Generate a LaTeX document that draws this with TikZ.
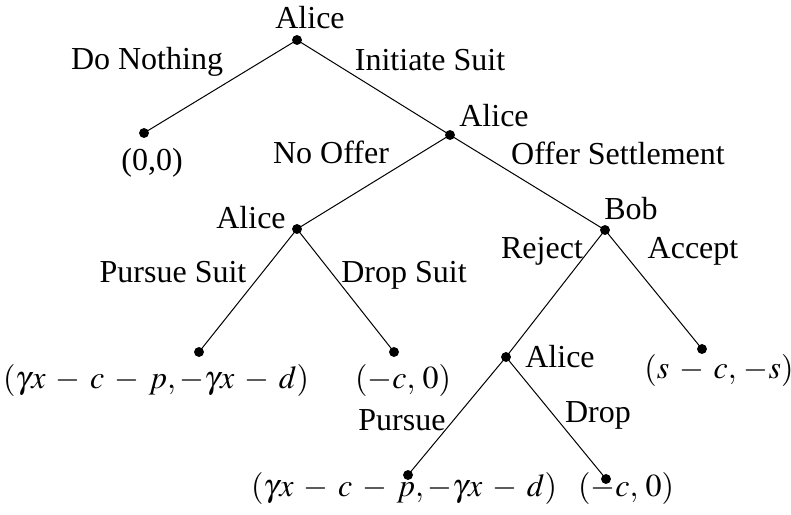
\documentclass[tikz,border=0pt]{standalone}
\usepackage{amsmath}
\usepackage{mathptmx}
\usepackage[no-math]{fontspec}
\setmainfont{Liberation Serif}
\usepackage{tikz}
\usepackage{tkz-euclide}
\medmuskip=5.5mu plus 2mu minus 4mu

\begin{document}
\begin{tikzpicture}[x=0.5pt, y=-0.5pt, font=\fontsize{16}{19}\selectfont,
    lbl/.style={anchor=base, inner sep=0pt}]
            \useasboundingbox (0,0) rectangle (791,514);
            \tkzDefPoints{297/40/R, 144/133/N, 450/135/A_1, 297/229/A_2, 605/230/B}
            \tkzDefPoints{199/352/P_1, 394/352/D_1, 506/357/A_3, 702/349/S, 408/475/P_2, 606/479/D_2}
            \tkzDrawSegments[black, line width=0.5pt](R,N R,A_1 A_1,A_2 A_1,B A_2,P_1 A_2,D_1)
            \tkzDrawSegments[black, line width=0.5pt](B,A_3 B,S A_3,P_2 A_3,D_2)
            \tkzDrawPoints[size=4.5, color=black, fill=black](R,N,A_1,A_2,B,P_1,D_1,A_3,S,P_2,D_2)
            % players
            \node[lbl] (pR) at (310,28) {Alice};
            \node[lbl] (pA1) at (494,126) {Alice};
            \node[lbl] (pA2) at (251,228) {Alice};
            \node[lbl] (pB) at (631,219) {Bob};
            \node[lbl] (pA3) at (560,367) {Alice};
            % moves
            \node[lbl] (mN) at (147,69) {Do Nothing};
            \node[lbl] (mI) at (430,70) {Initiate Suit};
            \node[lbl] (mNo) at (331,163) {No Offer};
            \node[lbl] (mO) at (618,164) {Offer Settlement};
            \node[lbl] (mP1) at (173,282) {Pursue Suit};
            \node[lbl] (mD1) at (404,282) {Drop Suit};
            \node[lbl] (mRj) at (542,258) {Reject};
            \node[lbl] (mAc) at (693,258) {Accept};
            \node[lbl] (mP2) at (402,430) {Pursue};
            \node[lbl] (mD2) at (598,422) {Drop};
            % payoffs
            \node[lbl] (uN) at (152,170) {(0,0)};
            \node[lbl] (uP1) at (156,388) {$(\gamma x-c-p,-\gamma x-d)$};
            \node[lbl] (uD1) at (403,388) {$(-c,\,0)$};
            \node[lbl] (uS) at (719,378) {$(s-c,\,-s)$};
            \node[lbl] (uP2) at (404,496) {$(\gamma x-c-p,-\gamma x-d)$};
            \node[lbl] (uD2) at (626,496) {$(-c,\,0)$};
        \end{tikzpicture}
\end{document}
